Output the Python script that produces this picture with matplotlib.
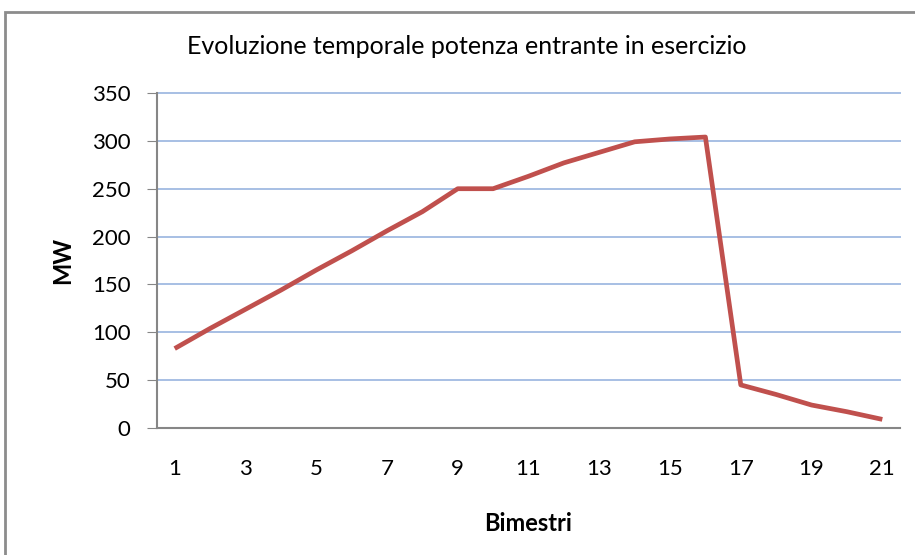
import matplotlib.pyplot as plt
from matplotlib.patches import Rectangle

# bimestri 1..21 and power (MW)
bimestri = list(range(1, 22))
potenza = [83, 104, 124, 144, 165, 185, 206, 226, 250, 250, 263, 277,
           288, 299, 302, 304, 45, 35, 24, 17, 9]
xtick_labels = [str(b) for b in bimestri if b % 2 == 1]
yticks = [0, 50, 100, 150, 200, 250, 300, 350]

plt.rcParams['font.family'] = ['Lato', 'DejaVu Sans']

fig = plt.figure(figsize=(9.15, 5.55), dpi=100)
# outer chart frame
fig.patches.append(Rectangle((5/915, -0.05), 1.2, 1 - 12/555 + 0.05,
                             transform=fig.transFigure, fill=False,
                             edgecolor='#8c8c8c', linewidth=2))

ax = fig.add_axes([157/915, 1 - 428/555, (900-157)/915, (428-93)/555])
ax.plot(bimestri, potenza, color='#c0504d', linewidth=3.4, solid_capstyle='butt',
        zorder=3)

ax.set_xlim(0.5, 21.5)
ax.set_ylim(0, 350)
ax.set_yticks(yticks)
ax.set_xticks([b for b in bimestri if b % 2 == 1])
ax.set_xticklabels(xtick_labels)
ax.yaxis.grid(True, color='#a7bfe4', linewidth=1.4)
for gl in ax.get_ygridlines():
    gl.set_clip_on(False)
ax.set_axisbelow(True)

for s in ['top', 'right']:
    ax.spines[s].set_visible(False)
for s in ['left', 'bottom']:
    ax.spines[s].set_color('#868686')
    ax.spines[s].set_linewidth(1.5)

ax.tick_params(axis='y', direction='out', length=7, color='#868686',
               labelsize=16, pad=12)
ax.tick_params(axis='x', length=0, labelsize=16, pad=22)

fig.text(467/915, 1 - 47/555, 'Evoluzione temporale potenza entrante in esercizio',
         fontsize=18, ha='center', va='center')
ax.set_ylabel('MW', fontsize=17, fontweight='bold', labelpad=13)
ax.set_xlabel('Bimestri', fontsize=17, fontweight='bold', labelpad=24)

fig.savefig('out.png', dpi=100)
